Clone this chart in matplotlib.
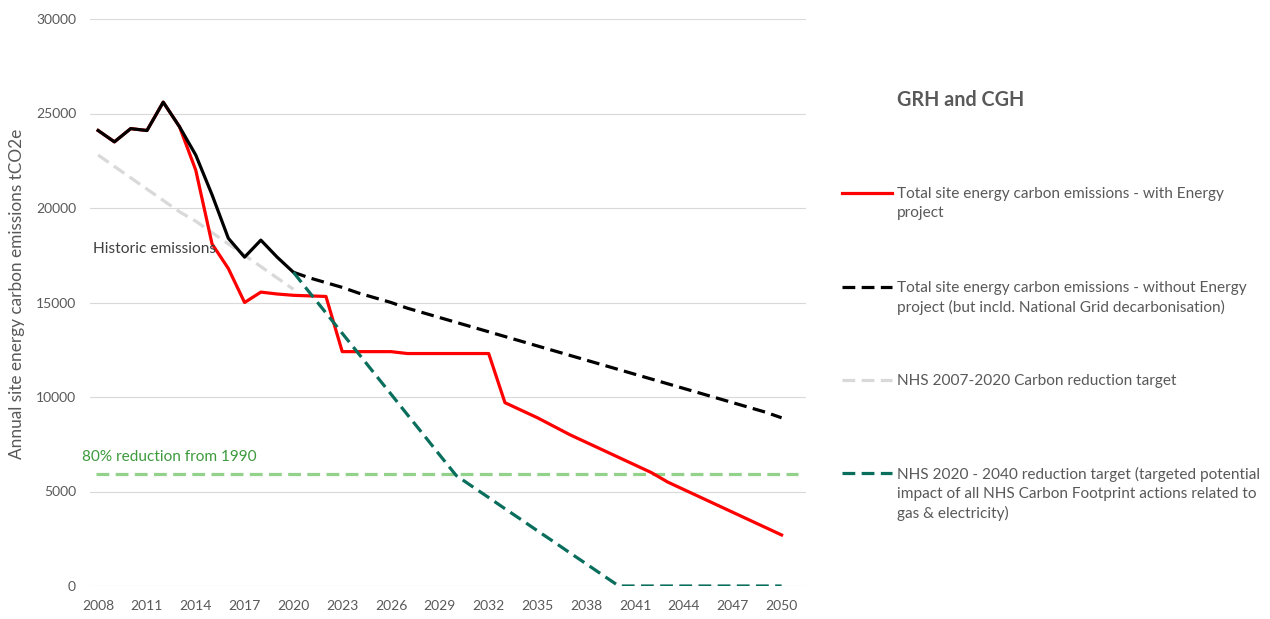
import matplotlib
matplotlib.use("Agg")
import matplotlib.pyplot as plt

plt.rcParams['font.family'] = ['Lato', 'DejaVu Sans']

# Data (tCO2e)
years = list(range(2008, 2051))
hist_years = list(range(2008, 2021))
historic = [24100, 23500, 24200, 24100, 25600, 24300, 22800, 20700, 18400, 17400, 18300, 17400, 16600]

with_project = [24100, 23500, 24200, 24100, 25600, 24300, 22000, 18100, 16800, 15000, 15550, 15450, 15380,
                15350, 15320, 12400, 12400, 12400, 12400, 12300, 12300, 12300, 12300, 12300, 12300,
                9700, 9300, 8900, 8450, 8000, 7600, 7200, 6800, 6400, 6000, 5500, 5100, 4700, 4300,
                3900, 3500, 3100, 2700]

proj_years = list(range(2020, 2051))
without_project = [16600, 16300, 16050, 15800, 15500, 15250, 15000, 14700, 14450, 14200, 13950,
                   13700, 13450, 13200, 12950, 12700, 12450, 12200, 11950, 11700, 11450, 11200,
                   10950, 10700, 10450, 10200, 9950, 9700, 9450, 9200, 8900]

nhs_2007_2020 = [22800, 22200, 21600, 21000, 20400, 19800, 19300, 18700, 18100, 17500, 16900, 16300, 15700]

nhs_2020_2040 = [16600, 15520, 14450, 13370, 12300, 11220, 10150, 9070, 8000, 6920, 5850,
                 5260, 4680, 4090, 3510, 2920, 2340, 1750, 1170, 580, 0,
                 0, 0, 0, 0, 0, 0, 0, 0, 0, 0]

target_80 = 5900

legend_labels = [
    "Total site energy carbon emissions - with Energy\nproject",
    "Total site energy carbon emissions - without Energy\nproject (but incld. National Grid decarbonisation)",
    "NHS 2007-2020 Carbon reduction target",
    "NHS 2020 - 2040 reduction target (targeted potential\nimpact of all NHS Carbon Footprint actions related to\ngas & electricity)",
]

# Colours
RED = '#FF0000'
BLACK = '#000000'
LGREY = '#D9D9D9'
TEAL = '#0A6E5C'
LGREEN = '#93D28A'
TXT = '#595959'

W, H = 1270, 619
fig = plt.figure(figsize=(W / 100, H / 100), dpi=100)
ax = fig.add_axes([90 / W, 1 - 586 / H, (806 - 90) / W, (586 - 19) / H])

lw = 2.3
ax.plot(hist_years, nhs_2007_2020, color=LGREY, lw=lw, dashes=(4, 2), zorder=2)
ax.axhline(target_80, xmin=0.008, xmax=0.989, color=LGREEN, lw=lw, dashes=(4, 2), zorder=2)
ax.plot(years, with_project, color=RED, lw=lw, zorder=3)
ax.plot(proj_years, without_project, color=BLACK, lw=lw, dashes=(4, 2), zorder=4)
ax.plot(hist_years, historic, color=BLACK, lw=lw, zorder=5)
ax.plot(proj_years, nhs_2020_2040, color=TEAL, lw=lw, dashes=(4, 2), zorder=6)

ax.text(2007.7, 17850, "Historic emissions", color='#404040', fontsize=11.2, va='center', ha='left', zorder=7)
ax.text(2007.0, 6800, "80% reduction from 1990", color='#3D9A3D', fontsize=11.1, va='center', ha='left')

# Axes formatting
ax.set_xlim(2007.5, 2051.5)
ax.set_ylim(0, 30000)
ax.set_yticks(range(0, 30001, 5000))
ax.set_xticks(range(2008, 2051, 3))
ax.tick_params(axis='both', length=0, labelsize=10, labelcolor=TXT)
ax.tick_params(axis='y', pad=10)
ax.tick_params(axis='x', pad=10)
ax.grid(True, axis='y', color=LGREY, lw=0.8)
ax.set_axisbelow(True)
for s in ax.spines.values():
    s.set_visible(False)
ax.set_ylabel("Annual site energy carbon emissions tCO2e", color=TXT, fontsize=12.4)
ax.yaxis.set_label_coords(-0.102, 0.515)
ax.yaxis.label.set_verticalalignment('center')

# Legend drawn in pixel coordinates on an overlay axes
lax = fig.add_axes([0, 0, 1, 1])
lax.set_xlim(0, W)
lax.set_ylim(H, 0)
lax.axis('off')
lax.text(897, 100, "GRH and CGH", color=TXT, fontsize=14.2, fontweight='bold', va='center', ha='left')
handle_styles = [
    dict(color=RED),
    dict(color=BLACK, dashes=(4, 2)),
    dict(color=LGREY, dashes=(4, 2)),
    dict(color=TEAL, dashes=(4, 2)),
]
entry_y = [193, 287, 380, 473]
for y, lab, st in zip(entry_y, legend_labels, handle_styles):
    lax.plot([842, 892], [y, y], lw=lw, **st)
    lax.text(897, y - 6, lab, color=TXT, fontsize=11.1, va='top', ha='left', linespacing=1.42)

fig.savefig('out.png', dpi=100)
